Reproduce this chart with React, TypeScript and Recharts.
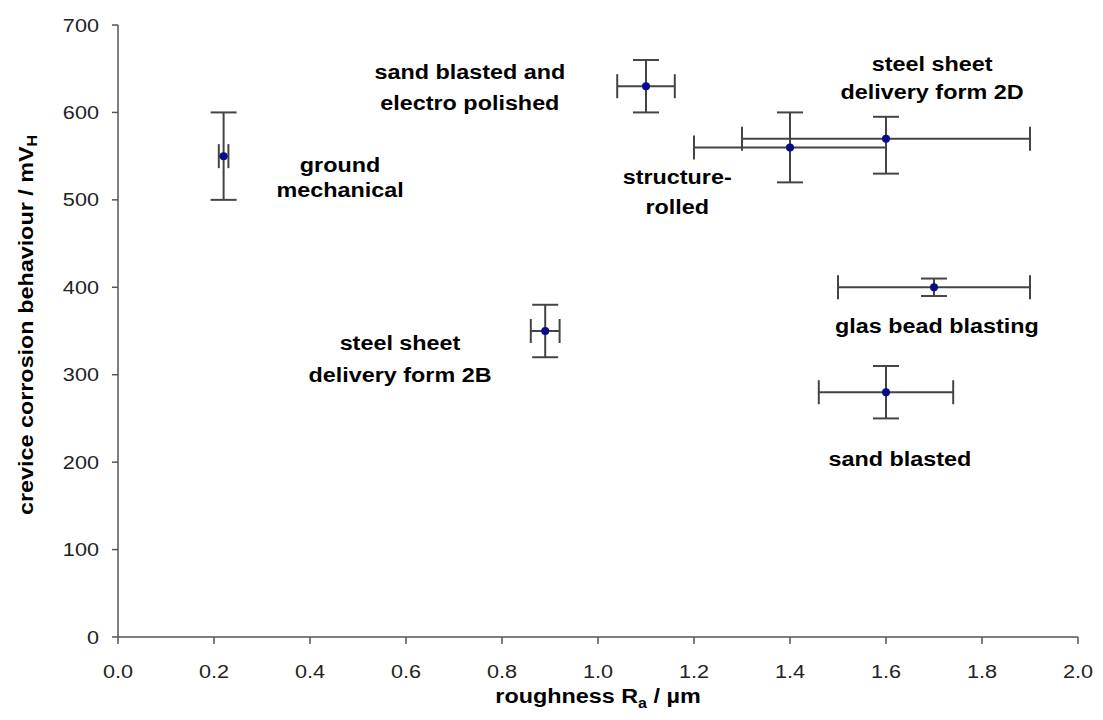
import React from "react";
import {
  ScatterChart,
  Scatter,
  XAxis,
  YAxis,
  ErrorBar,
  ReferenceDot,
} from "recharts";

// values
const treatments = [
  "ground mechanical",
  "sand blasted and electro polished",
  "structure-rolled",
  "steel sheet delivery form 2D",
  "glas bead blasting",
  "sand blasted",
  "steel sheet delivery form 2B",
];
const roughness = [0.22, 1.1, 1.4, 1.6, 1.7, 1.6, 0.89];
const roughnessErr = [0.01, 0.06, 0.2, 0.3, 0.2, 0.14, 0.03];
const crevice = [550, 630, 560, 570, 400, 280, 350];
// [lower, upper] where the bar is not symmetric
const creviceErr: (number | [number, number])[] = [50, 30, 40, [40, 25], 10, 30, 30];

const labelLines = [
  ["ground", "mechanical"],
  ["sand blasted and", "electro polished"],
  ["structure-", "rolled"],
  ["steel sheet", "delivery form 2D"],
  ["glas bead blasting"],
  ["sand blasted"],
  ["steel sheet", "delivery form 2B"],
];
// where each annotation sits, in axis units
const labelX = [0.4625, 0.733, 1.165, 1.696, 1.706, 1.629, 0.5875];
const labelY = [525, 629, 509, 639, 356, 204, 318];
const labelGap = [25, 31, 30, 28, 0, 0, 32];

const xTicks = [0, 0.2, 0.4, 0.6, 0.8, 1.0, 1.2, 1.4, 1.6, 1.8, 2.0];
const yTicks = [0, 100, 200, 300, 400, 500, 600, 700];

const data = roughness.map((x, i) => ({
  name: treatments[i],
  x,
  y: crevice[i],
  ex: roughnessErr[i],
  ey: creviceErr[i],
}));

const FONT = "'Liberation Sans', Arial, Helvetica, sans-serif";
const SX = 1.14; // the figure's lettering is a bit wide
const AXIS = "#555";

function Txt({ x, y, size, bold, anchor = "middle", rotate = 0, base = "central", children }: any) {
  return (
    <text
      transform={`translate(${x},${y}) rotate(${rotate}) scale(${SX},1)`}
      textAnchor={anchor}
      dominantBaseline={base}
      fontSize={size}
      fontWeight={bold ? 700 : 400}
      fontFamily={FONT}
      fill={bold ? "#000" : "#222"}
    >
      {children}
    </text>
  );
}

const XTick = ({ x, y, payload }: any) => (
  <Txt x={x} y={y} size={19}>
    {Number(payload.value).toFixed(1)}
  </Txt>
);

const YTick = ({ x, y, payload }: any) => (
  <Txt x={x} y={y} size={19} anchor="end">
    {payload.value}
  </Txt>
);

const Dot = ({ cx, cy }: any) => <circle cx={cx} cy={cy} r={4} fill="#0a0a8c" />;

export default function App() {
  return (
    <div style={{ width: 1095, height: 712, background: "#fff" }}>
      <ScatterChart
        width={1095}
        height={712}
        margin={{ top: 17, right: 25, bottom: 0, left: 0 }}
      >
        <XAxis
          type="number"
          dataKey="x"
          domain={[0, 2]}
          ticks={xTicks}
          interval={0}
          height={83}
          tickSize={7}
          tickMargin={27}
          stroke={AXIS}
          strokeWidth={1.5}
          tick={<XTick />}
          label={{
            content: ({ viewBox }: any) => (
              <Txt
                x={viewBox.x + viewBox.width / 2}
                y={viewBox.y + 66}
                size={20.5}
                bold
                base="alphabetic"
              >
                roughness R
                <tspan dy={5} fontSize={14}>a</tspan>
                <tspan dy={-5}> / µm</tspan>
              </Txt>
            ),
          }}
        />
        <YAxis
          type="number"
          dataKey="y"
          domain={[0, 700]}
          ticks={yTicks}
          interval={0}
          width={110}
          tickSize={6}
          tickMargin={13}
          stroke={AXIS}
          strokeWidth={1.5}
          tick={<YTick />}
          label={{
            content: () => (
              <Txt x={18} y={317} size={20.5} bold rotate={-90}>
                crevice corrosion behaviour / mV
                <tspan dy={5} fontSize={14}>H</tspan>
              </Txt>
            ),
          }}
        />
        <Scatter data={data} shape={<Dot />} isAnimationActive={false}>
          <ErrorBar
            dataKey="ex"
            direction="x"
            width={12}
            stroke="#444"
            strokeWidth={2}
            isAnimationActive={false}
          />
          <ErrorBar
            dataKey="ey"
            direction="y"
            width={13}
            stroke="#444"
            strokeWidth={2}
            isAnimationActive={false}
          />
        </Scatter>
        {labelLines.map((lines, i) => (
          <ReferenceDot
            key={treatments[i]}
            x={labelX[i]}
            y={labelY[i]}
            r={1}
            fill="none"
            stroke="none"
            label={{
              content: ({ viewBox }: any) => {
                const cx = viewBox.x + viewBox.width / 2;
                const cy = viewBox.y + viewBox.height / 2;
                return (
                  <g>
                    {lines.map((line, j) => (
                      <Txt
                        key={line}
                        x={cx}
                        y={cy + (j - (lines.length - 1) / 2) * labelGap[i]}
                        size={20.5}
                        bold
                      >
                        {line}
                      </Txt>
                    ))}
                  </g>
                );
              },
            }}
          />
        ))}
      </ScatterChart>
    </div>
  );
}
